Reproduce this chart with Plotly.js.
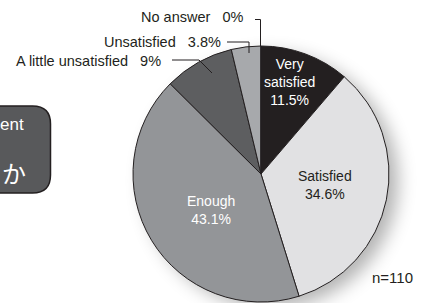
<!DOCTYPE html>
<html>
<head>
<meta charset="utf-8">
<script src="https://cdn.plot.ly/plotly-3.0.1.min.js"></script>
<style>
  html, body { margin: 0; padding: 0; background: #ffffff; }
  #wrap { position: relative; width: 424px; height: 303px; overflow: hidden; }
  #shadow { position: absolute; left: 134px; top: 47px; width: 254px; height: 254px;
            border-radius: 50%; background: #fff; box-shadow: 10px 7px 18px rgba(0,0,0,0.30); }
  #chart { position: absolute; left: 0; top: 0; width: 424px; height: 303px; }
</style>
</head>
<body>
<div id="wrap">
  <div id="shadow"></div>
  <div id="chart"></div>
</div>
<script>
// ---- data ----
const categories = ["Very satisfied", "Satisfied", "Enough", "A little unsatisfied", "Unsatisfied", "No answer"];
const displayLabels = ["Very<br>satisfied", "Satisfied", "Enough", "A little unsatisfied", "Unsatisfied", "No answer"];
const percents = [11.5, 34.6, 43.1, 9, 3.8, 0];
const sampleNote = "n=110";
const sideText = ["ent", "か"];

// ---- styles ----
const sliceColors = ["#231f20", "#e1e1e3", "#939598", "#5d5e60", "#a7a9ac", "#d0d0d2"];
const lineColor = "#231f20";
const W = 424, H = 303;
const px = x => x / W;
const py = y => 1 - y / H;
const FONT = "Liberation Sans, Arial, Helvetica, sans-serif";
const NBSP = "\u00a0";

const trace = {
  type: "pie",
  labels: categories,
  values: percents,
  sort: false,
  direction: "clockwise",
  rotation: 0,
  textinfo: "none",
  hoverinfo: "label+value",
  marker: { colors: sliceColors, line: { color: lineColor, width: 1 } },
  domain: { x: [px(133), px(389)], y: [py(302), py(46)] },
  showlegend: false
};

function pct(i) { return percents[i] + "%"; }

const annotations = [];
// inside labels
const inside = [
  { i: 0, x: 289, y: 82, color: "#ffffff" },
  { i: 1, x: 325, y: 185, color: "#231f20" },
  { i: 2, x: 211, y: 210, color: "#ffffff" }
];
inside.forEach(o => annotations.push({
  xref: "paper", yref: "paper", x: px(o.x), y: py(o.y),
  xanchor: "center", yanchor: "middle", showarrow: false, align: "center",
  text: displayLabels[o.i] + "<br>" + pct(o.i),
  font: { family: FONT, size: 14, color: o.color }
}));
// outside labels
const outside = [
  { i: 5, x: 245, y: 17.5, gap: 3 },
  { i: 4, x: 223, y: 41.5, gap: 3 },
  { i: 3, x: 163, y: 61, gap: 3 }
];
outside.forEach(o => annotations.push({
  xref: "paper", yref: "paper", x: px(o.x), y: py(o.y),
  xanchor: "right", yanchor: "middle", showarrow: false,
  text: displayLabels[o.i] + NBSP.repeat(o.gap) + pct(o.i),
  font: { family: FONT, size: 14.5, color: "#231f20" }
}));
// n note
annotations.push({
  xref: "paper", yref: "paper", x: px(392), y: py(277),
  xanchor: "center", yanchor: "middle", showarrow: false,
  text: sampleNote, font: { family: FONT, size: 15, color: "#231f20" }
});
// side box texts
annotations.push({
  xref: "paper", yref: "paper", x: px(26), y: py(124),
  xanchor: "right", yanchor: "middle", showarrow: false,
  text: sideText[0], font: { family: FONT, size: 17, color: "#ffffff" }
});
annotations.push({
  xref: "paper", yref: "paper", x: px(28), y: py(172),
  xanchor: "right", yanchor: "middle", showarrow: false,
  text: sideText[1], font: { family: "Noto Sans CJK JP", size: 24, color: "#ffffff" }
});

function pathOf(pts) {
  return pts.map((p, k) => (k ? "L" : "M") + px(p[0]) + "," + py(p[1])).join(" ");
}
const shapes = [
  { type: "path", xref: "paper", yref: "paper",
    path: pathOf([[255, 19.5], [260.5, 19.5], [260.5, 46]]),
    line: { color: lineColor, width: 1 } },
  { type: "path", xref: "paper", yref: "paper",
    path: pathOf([[227, 42], [249, 42], [249, 53]]),
    line: { color: lineColor, width: 1 } },
  { type: "path", xref: "paper", yref: "paper",
    path: pathOf([[172, 60], [199, 60], [212, 73]]),
    line: { color: lineColor, width: 1 } }
];
// rounded side box (cut off at left edge)
(function () {
  const x0 = -10, x1 = 50.5, y0 = 106, y1 = 193, r = 18;
  const d = "M" + px(x0) + "," + py(y0) +
    " L" + px(x1 - r) + "," + py(y0) +
    " Q" + px(x1) + "," + py(y0) + " " + px(x1) + "," + py(y0 + r) +
    " L" + px(x1) + "," + py(y1 - r) +
    " Q" + px(x1) + "," + py(y1) + " " + px(x1 - r) + "," + py(y1) +
    " L" + px(x0) + "," + py(y1) + " Z";
  shapes.unshift({ type: "path", xref: "paper", yref: "paper", path: d,
    fillcolor: "#58595b", line: { color: "#231f20", width: 1.5 }, layer: "below" });
})();

const layout = {
  width: W, height: H,
  margin: { l: 0, r: 0, t: 0, b: 0 },
  paper_bgcolor: "rgba(0,0,0,0)",
  plot_bgcolor: "rgba(0,0,0,0)",
  showlegend: false,
  annotations: annotations,
  shapes: shapes
};

Plotly.newPlot("chart", [trace], layout, { staticPlot: true, displayModeBar: false });
</script>
</body>
</html>
